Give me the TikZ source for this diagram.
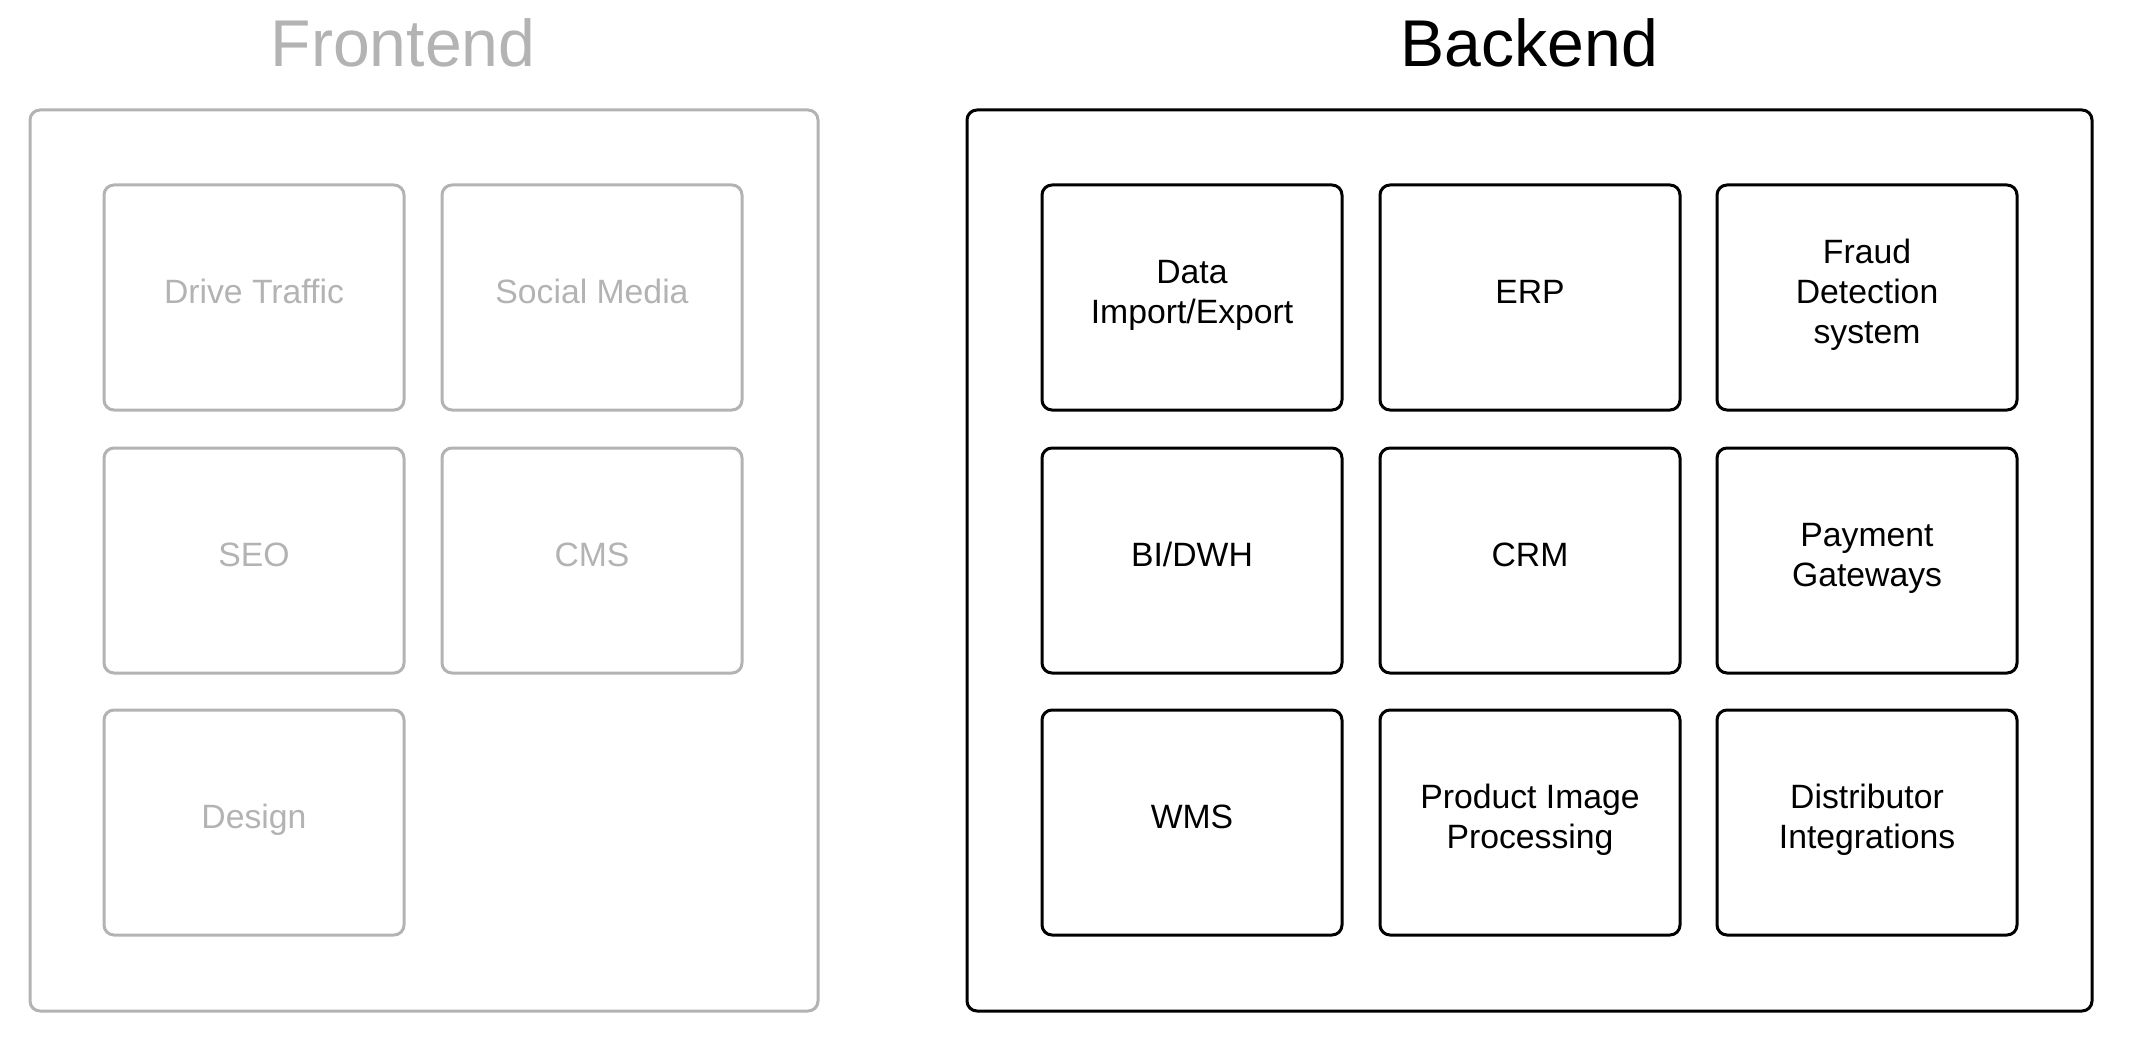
\documentclass[tikz,border=0pt]{standalone}
\usepackage{fontspec}
\setmainfont{Liberation Sans}
\definecolor{fgray}{HTML}{B3B3B3}
\newcommand\lowstrut{\rule[-9pt]{0pt}{9pt}}
\begin{document}
\begin{tikzpicture}[x=0.75pt,y=-0.75pt,
  outerbox/.style={draw, line width=2.25pt, rounded corners=7.5pt, rectangle, inner sep=0pt},
  card/.style={draw, line width=2.25pt, rounded corners=7.5pt, rectangle, inner sep=0pt,
    minimum width=225pt, minimum height=168.75pt, align=center,
    font=\fontsize{25.3pt}{30pt}\selectfont, execute at end node=\lowstrut},
  title/.style={anchor=base, inner sep=0pt, font=\fontsize{49.6pt}{56pt}\selectfont},
  fe/.style={draw=fgray, text=fgray},
  be/.style={draw=black, text=black}]
\useasboundingbox (0,0) rectangle (2130,1041);
% titles
\node[title, text=fgray] (fetitle) at (403,67) {Frontend};
\node[title, text=black] (betitle) at (1529.5,67) {Backend};
% outer boxes
\node[outerbox, fe, minimum width=591pt, minimum height=675.75pt] (febox) at (424,560.5) {};
\node[outerbox, be, minimum width=843.75pt, minimum height=675.75pt] (bebox) at (1529.5,560.5) {};
% frontend cards
\node[card, fe] (drive) at (254,297.5) {Drive Traffic};
\node[card, fe] (social) at (592,297.5) {Social Media};
\node[card, fe] (seo) at (254,560.5) {SEO};
\node[card, fe] (cms) at (592,560.5) {CMS};
\node[card, fe] (design) at (254,822.5) {Design};
% backend cards
\node[card, be] (data) at (1192,297.5) {Data\\Import/Export};
\node[card, be] (erp) at (1530,297.5) {ERP};
\node[card, be] (fraud) at (1867,297.5) {Fraud\\Detection\\system};
\node[card, be] (bi) at (1192,560.5) {BI/DWH};
\node[card, be] (crm) at (1530,560.5) {CRM};
\node[card, be] (pay) at (1867,560.5) {Payment\\Gateways};
\node[card, be] (wms) at (1192,822.5) {WMS};
\node[card, be] (pip) at (1530,822.5) {Product Image\\Processing};
\node[card, be] (dist) at (1867,822.5) {Distributor\\Integrations};
\end{tikzpicture}
\end{document}
